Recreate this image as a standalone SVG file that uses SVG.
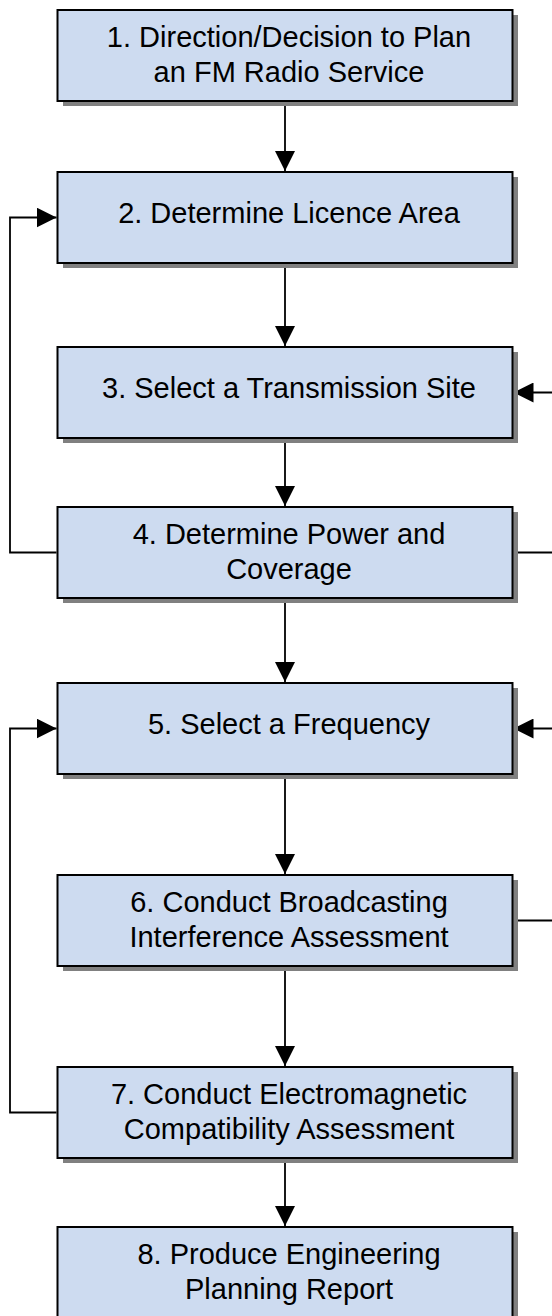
<svg xmlns="http://www.w3.org/2000/svg" width="552" height="1316" viewBox="0 0 552 1316">
<style>
.shadow{fill:#808080;}
.box{fill:#cddbf0;stroke:#000;stroke-width:2;}
.lbl{font-family:"Liberation Sans",Arial,sans-serif;font-size:29px;fill:#000;text-anchor:middle;}
.conn{fill:none;stroke:#000;stroke-width:1.8;}
</style>
<defs>
<marker id="ah" viewBox="0 0 20 20" refX="20" refY="10" markerWidth="20" markerHeight="20" markerUnits="userSpaceOnUse" orient="auto">
<path d="M0,0 L20,10 L0,20 Z" fill="#000"/>
</marker>
</defs>
<rect width="552" height="1316" fill="#fff"/>
<g id="connectors">
<path class="conn" d="M285,102 V171" marker-end="url(#ah)"/>
<path class="conn" d="M285,264 V346" marker-end="url(#ah)"/>
<path class="conn" d="M285,439 V506" marker-end="url(#ah)"/>
<path class="conn" d="M285,599 V682" marker-end="url(#ah)"/>
<path class="conn" d="M285,775 V874" marker-end="url(#ah)"/>
<path class="conn" d="M285,967 V1066" marker-end="url(#ah)"/>
<path class="conn" d="M285,1159 V1226" marker-end="url(#ah)"/>
<path class="conn" d="M56.5,552.5 H10 V217.5 H56.5" marker-end="url(#ah)"/>
<path class="conn" d="M513.5,552.5 H560 V392.5 H513.5" marker-end="url(#ah)"/>
<path class="conn" d="M56.5,1112.5 H10 V728.5 H56.5" marker-end="url(#ah)"/>
<path class="conn" d="M513.5,920.5 H560 V728.5 H513.5" marker-end="url(#ah)"/>
</g>
<g id="node1">
<rect class="shadow" x="63" y="15" width="455" height="91"/>
<rect class="box" x="57.5" y="10" width="455" height="91"/>
<text class="lbl" x="289" y="47.3">1. Direction/Decision to Plan</text>
<text class="lbl" x="289" y="81.7">an FM Radio Service</text>
</g>
<g id="node2">
<rect class="shadow" x="63" y="177" width="455" height="91"/>
<rect class="box" x="57.5" y="172" width="455" height="91"/>
<text class="lbl" x="289" y="223">2. Determine Licence Area</text>
</g>
<g id="node3">
<rect class="shadow" x="63" y="352" width="455" height="91"/>
<rect class="box" x="57.5" y="347" width="455" height="91"/>
<text class="lbl" x="289" y="398">3. Select a Transmission Site</text>
</g>
<g id="node4">
<rect class="shadow" x="63" y="512" width="455" height="91"/>
<rect class="box" x="57.5" y="507" width="455" height="91"/>
<text class="lbl" x="289" y="544.3">4. Determine Power and</text>
<text class="lbl" x="289" y="578.7">Coverage</text>
</g>
<g id="node5">
<rect class="shadow" x="63" y="688" width="455" height="91"/>
<rect class="box" x="57.5" y="683" width="455" height="91"/>
<text class="lbl" x="289" y="734">5. Select a Frequency</text>
</g>
<g id="node6">
<rect class="shadow" x="63" y="880" width="455" height="91"/>
<rect class="box" x="57.5" y="875" width="455" height="91"/>
<text class="lbl" x="289" y="912.3">6. Conduct Broadcasting</text>
<text class="lbl" x="289" y="946.7">Interference Assessment</text>
</g>
<g id="node7">
<rect class="shadow" x="63" y="1072" width="455" height="91"/>
<rect class="box" x="57.5" y="1067" width="455" height="91"/>
<text class="lbl" x="289" y="1104.3">7. Conduct Electromagnetic</text>
<text class="lbl" x="289" y="1138.7">Compatibility Assessment</text>
</g>
<g id="node8">
<rect class="shadow" x="63" y="1232" width="455" height="91"/>
<rect class="box" x="57.5" y="1227" width="455" height="91"/>
<text class="lbl" x="289" y="1264.3">8. Produce Engineering</text>
<text class="lbl" x="289" y="1298.7">Planning Report</text>
</g>
</svg>
